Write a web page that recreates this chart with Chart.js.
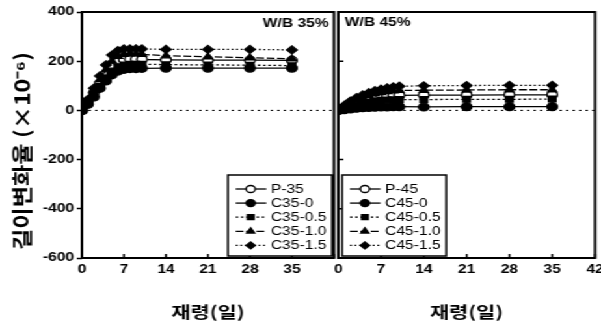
<!DOCTYPE html>
<html>
<head>
<meta charset="utf-8">
<script src="https://cdn.jsdelivr.net/npm/chart.js@4.4.0/dist/chart.umd.min.js"></script>
<style>
    html, body { margin: 0; padding: 0; background: #fff; overflow: hidden; }
    #fig { position: absolute; left: 0; top: 0; width: 462px; height: 325px; transform: scaleX(1.3009); transform-origin: 0 0; }
    #left { position: absolute; left: 0; top: 0; }
    #right { position: absolute; left: 250px; top: 0; }
</style>
</head>
<body>
<div id="fig">
    <canvas id="left" width="262" height="325"></canvas>
    <canvas id="right" width="222" height="325"></canvas>
</div>
<script>
// 재령(일)
var days = [0, 1, 2, 3, 4, 5, 6, 7, 8, 9, 10, 14, 21, 28, 35];
var dayTicks = [0, 7, 14, 21, 28, 35, 42];
var strainTicks = [-600, -400, -200, 0, 200, 400];

// W/B 35%
var names35 = ['P-35', 'C35-0', 'C35-0.5', 'C35-1.0', 'C35-1.5'];
var p35    = [0, 35, 72, 110, 148, 180, 198, 206, 208, 208, 207, 205, 204, 204, 203];
var c35_0  = [0, 25, 55, 90, 120, 145, 160, 167, 170, 170, 171, 172, 172, 172, 172];
var c35_05 = [0, 30, 62, 98, 132, 160, 178, 185, 188, 188, 188, 186, 185, 184, 182];
var c35_10 = [0, 40, 82, 125, 165, 200, 220, 228, 230, 230, 228, 222, 218, 214, 210];
var c35_15 = [0, 45, 90, 140, 185, 225, 243, 250, 250, 250, 250, 248, 248, 248, 246];

// W/B 45%
var names45 = ['P-45', 'C45-0', 'C45-0.5', 'C45-1.0', 'C45-1.5'];
var p45    = [0, 11, 22, 32, 40, 46, 51, 55, 58, 60, 61, 62, 62, 63, 63];
var c45_0  = [0, 3, 6, 9, 11, 12, 13, 14, 14, 15, 15, 14, 15, 15, 15];
var c45_05 = [0, 8, 15, 22, 28, 33, 37, 40, 42, 43, 44, 44, 45, 45, 46];
var c45_10 = [0, 15, 30, 42, 52, 60, 67, 72, 76, 79, 81, 82, 83, 84, 84];
var c45_15 = [0, 20, 38, 52, 63, 72, 80, 86, 91, 95, 98, 100, 101, 102, 102];

// 시리즈별 표시 형식
var markStyle = ['circle', 'circle', 'rect', 'triangle', 'rectRot'];
var markFill = ['#fff', '#000', '#000', '#000', '#000'];
var dashes = [[], [], [2, 2], [6, 2], [1.5, 2]];
var drawOrder = [10, 1, 2, 3, 4];   // 큰 값이 먼저(아래에) 그려짐

var tickFont = {family: '"Liberation Sans", Arial, sans-serif', size: 12, weight: 'bold'};

function buildSets(names, series) {
    var sets = [];
    for (var i = 0; i < series.length; i++) {
        var vals = series[i];
        sets.push({
            label: names[i],
            order: drawOrder[i],
            data: days.map(function (d, k) { return {x: d, y: vals[k]}; }),
            borderColor: '#000',
            borderWidth: 1.3,
            borderDash: dashes[i],
            pointStyle: markStyle[i],
            pointRadius: 4,
            pointBackgroundColor: markFill[i],
            pointBorderColor: '#000',
            pointBorderWidth: 1.3,
            clip: {left: 0, top: false, right: false, bottom: false}
        });
    }
    // 0 기준선 (점선)
    sets.push({
        label: '',
        isZero: true,
        order: 20,
        data: [{x: 0, y: 0}, {x: 42, y: 0}],
        borderColor: '#000',
        borderWidth: 1,
        borderDash: [2, 3],
        pointRadius: 0
    });
    return sets;
}

// 테두리, 안쪽 눈금, W/B 라벨, 범례 상자
var panelPlugin = {
    id: 'panel',
    afterDraw: function (chart, args, opts) {
        var ctx = chart.ctx;
        var a = chart.chartArea;
        ctx.save();
        ctx.setLineDash([]);
        ctx.globalAlpha = 1;
        ctx.strokeStyle = '#000';
        ctx.fillStyle = '#000';
        ctx.lineWidth = 2;
        ctx.beginPath();
        ctx.rect(a.left, a.top, a.right - a.left, a.bottom - a.top);
        ctx.stroke();

        ctx.lineWidth = 1.5;
        ctx.beginPath();
        dayTicks.forEach(function (d) {
            var px = chart.scales.x.getPixelForValue(d);
            ctx.moveTo(px, a.bottom);
            ctx.lineTo(px, a.bottom - 4);
        });
        if (opts.innerY) {
            strainTicks.forEach(function (v) {
                var py = chart.scales.y.getPixelForValue(v);
                ctx.moveTo(a.left, py);
                ctx.lineTo(a.left + 4, py);
            });
        }
        ctx.stroke();

        ctx.font = 'bold 12px "Liberation Sans", Arial, sans-serif';
        ctx.textBaseline = 'middle';
        if (opts.side === 'right') {
            ctx.textAlign = 'right';
            ctx.fillText(opts.label, a.right - 4, 24);
        } else {
            ctx.textAlign = 'left';
            ctx.fillText(opts.label, a.left + 5, 23);
        }

        // 범례
        var bw = 80, bh = 81;
        var bx = opts.side === 'right' ? a.right - 1.5 - bw : a.left + 3;
        var by = a.bottom - 83;
        ctx.fillStyle = '#fff';
        ctx.fillRect(bx, by, bw, bh);
        ctx.lineWidth = 1.5;
        ctx.strokeRect(bx, by, bw, bh);
        ctx.font = '12px "Liberation Sans", Arial, sans-serif';
        ctx.textAlign = 'left';
        chart.data.datasets.forEach(function (ds, i) {
            if (ds.isZero) return;
            var y = by + 14 + i * 14.1;
            ctx.lineWidth = 1.3;
            ctx.setLineDash(ds.borderDash);
            ctx.beginPath();
            ctx.moveTo(bx + 6, y);
            ctx.lineTo(bx + 29.5, y);
            ctx.stroke();
            ctx.setLineDash([]);
            ctx.fillStyle = ds.pointBackgroundColor;
            Chart.helpers.drawPoint(ctx, {pointStyle: ds.pointStyle, rotation: 0, radius: 3.5, borderWidth: 1.2}, bx + 17.5, y);
            ctx.fillStyle = '#000';
            ctx.fillText(ds.label, bx + 33, y + 0.5);
        });
        ctx.restore();
    }
};

// 세로축 제목
var yTitlePlugin = {
    id: 'yTitle',
    afterDraw: function (chart) {
        var ctx = chart.ctx;
        var t = '길이변화율 (×10⁻⁶)';
        ctx.save();
        ctx.font = 'bold 16px "Noto Sans CJK KR", sans-serif';
        ctx.fillStyle = '#000';
        var w = ctx.measureText(t).width;
        ctx.translate(17, 151);
        ctx.rotate(-Math.PI / 2);
        ctx.scale(198 / w, 1);
        ctx.textAlign = 'center';
        ctx.textBaseline = 'middle';
        ctx.fillText(t, 0, 0);
        ctx.restore();
    }
};

function makeChart(id, names, series, opts) {
    var ctx = document.getElementById(id).getContext('2d');
    var yAxis = {
        type: 'linear',
        display: !!opts.first,
        min: -600,
        max: 400,
        afterBuildTicks: function (s) { s.ticks = strainTicks.map(function (v) { return {value: v}; }); },
        grid: {drawOnChartArea: false, drawTicks: true, tickLength: 4, tickColor: '#000', tickWidth: 1.5},
        border: {display: false},
        ticks: {color: '#000', font: tickFont, padding: 2}
    };
    if (opts.first) {
        yAxis.afterFit = function (s) { s.width = 63; };
    }
    return new Chart(ctx, {
        type: 'line',
        data: {datasets: buildSets(names, series)},
        plugins: opts.first ? [panelPlugin, yTitlePlugin] : [panelPlugin],
        options: {
            responsive: false,
            animation: false,
            devicePixelRatio: 1,
            layout: {padding: opts.padding},
            plugins: {
                legend: {display: false},
                tooltip: {enabled: false},
                panel: {label: opts.label, side: opts.side, innerY: !opts.first}
            },
            scales: {
                x: {
                    type: 'linear',
                    min: 0,
                    max: 42,
                    afterBuildTicks: function (s) { s.ticks = dayTicks.map(function (v) { return {value: v}; }); },
                    afterFit: function (s) { s.height = 67; },
                    grid: {display: false, drawTicks: false},
                    border: {display: false},
                    ticks: {
                        color: '#000',
                        font: tickFont,
                        padding: 4,
                        maxRotation: 0,
                        autoSkip: false,
                        callback: function (v) { return (opts.first && v === 42) ? '' : String(v); }
                    },
                    title: {
                        display: true,
                        text: '재령(일)',
                        color: '#000',
                        font: {family: '"Noto Sans CJK KR", sans-serif', size: 16, weight: 'bold'},
                        padding: {top: 0, bottom: 3}
                    }
                },
                y: yAxis
            }
        }
    });
}

makeChart('left', names35, [p35, c35_0, c35_05, c35_10, c35_15],
    {first: true, label: 'W/B 35%', side: 'right', padding: {left: 0, right: 2.9, top: 12, bottom: 0}});
makeChart('right', names45, [p45, c45_0, c45_05, c45_10, c45_15],
    {first: false, label: 'W/B 45%', side: 'left', padding: {left: 10, right: 14.6, top: 12, bottom: 0}});
</script>
</body>
</html>
